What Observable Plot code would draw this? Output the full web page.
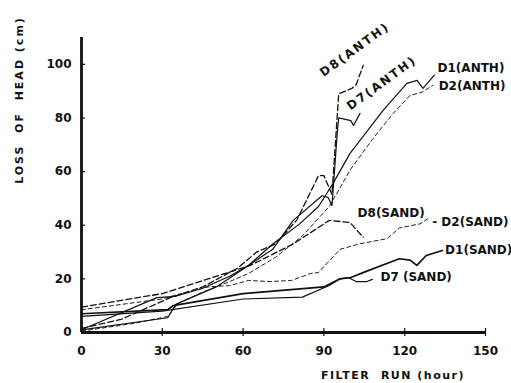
<!DOCTYPE html>
<html>
<head>
<meta charset="utf-8">
<script src="https://cdn.jsdelivr.net/npm/d3@7"></script>
<script src="https://cdn.jsdelivr.net/npm/@observablehq/plot@0.6"></script>
<style>
  html, body { margin: 0; padding: 0; background: #fff; }
  svg { display: block; }
</style>
</head>
<body>
<div id="chart"></div>
<script>
// Axis ticks
const hourTicks = [0, 30, 60, 90, 120, 150];
const headTicks = [0, 20, 40, 60, 80, 100];

// Series: [filter run (hour), loss of head (cm)]
const d1Anth = [[0,1],[28,13],[35,13.5],[45,16.5],[55,21],[62,25],[71,33],[81,40.5],[88,47],[93.4,55.6],[99.7,66.8],[112,82.8],[120.8,92.9],[124.6,94],[126.8,91],[131,96]];
const d2Anth = [[0,0.5],[20,3.5],[32,6],[36,11],[45,15],[55,19],[62,22],[72,28],[82,36],[92,47],[100,61],[108,72],[115.7,81.7],[122,88.4],[126.4,89.6],[130.5,92.2]];
const d7Anth = [[0,1],[32,5.5],[35,10.5],[50,17],[62,25],[71,31],[78.6,41.8],[89.3,51],[91.5,50.4],[93,47.4],[95,75],[95.5,80],[98,79.5],[100,79],[101,77.2],[103.4,81.7]];
const d8Anth = [[0,1.5],[15,5],[33,13],[45,17],[58,24],[65,30],[72,33],[80,42],[88,58.5],[90,58.5],[93,51.5],[95.5,89],[100.4,91],[102,92.5],[104.6,99.6]];
const d1Sand = [[0,7],[32,8.5],[34,10],[60,14.5],[90,17],[96,20],[100,20.5],[105,22.5],[118,27.5],[122,27],[124.5,25],[128,28.7],[134,30.6]];
const d7Sand = [[0,6],[30,8],[60,12.5],[82,13.2],[92,17.5],[96,20],[99,20.5],[102,19],[106,19],[108,19.8]];
const d2Sand = [[0,8.5],[30,12.5],[35,14],[47,17],[55,17.5],[62,19.4],[70,19],[78,19.4],[85,22],[88,22.4],[96,31],[103,33],[113.5,35],[118,39],[125.7,40.5],[128.7,42.5]];
const d8Sand = [[0,9.5],[30,14.5],[47,20],[62.7,25],[78.6,33],[92,41.8],[99.7,41],[104.6,35.5]];

// Series labels (hour, cm)
const endLabelText = ["D1(ANTH)", "D2(ANTH)", "D8(SAND)", "- D2(SAND)", "D1(SAND)", "D7 (SAND)"];
const endLabelHour = [132.2, 132.6, 102.5, 130.2, 135, 111];
const endLabelHead = [98.4, 91.7, 44.4, 41, 30.6, 20.5];
const tiltLabelText = ["D8(ANTH)", "D7(ANTH)"];
const tiltLabelHour = [101.5, 111.5];
const tiltLabelHead = [105.5, 93];

const endLabels = endLabelText.map((t, i) => ({t, x: endLabelHour[i], y: endLabelHead[i]}));
const tiltLabels = tiltLabelText.map((t, i) => ({t, x: tiltLabelHour[i], y: tiltLabelHead[i]}));

const solid = {stroke: "#111", strokeWidth: 1.2, x: d => d[0], y: d => d[1]};
const dashed = {stroke: "#111", strokeWidth: 1.3, strokeDasharray: "6,3", x: d => d[0], y: d => d[1]};
const dashedThin = {stroke: "#222", strokeWidth: 1, strokeDasharray: "4,3", x: d => d[0], y: d => d[1]};

const font = "DejaVu Sans, Arial, sans-serif";

const chart = Plot.plot({
  width: 511,
  height: 383,
  marginLeft: 81,
  marginRight: 26,
  marginTop: 37,
  marginBottom: 51,
  style: {fontFamily: font, background: "#fff", color: "#111"},
  x: {domain: [0, 150]},
  y: {domain: [0, 110]},
  marks: [
    Plot.line(d1Anth, solid),
    Plot.line(d2Anth, dashedThin),
    Plot.line(d7Anth, solid),
    Plot.line(d8Anth, dashed),
    Plot.line(d1Sand, {...solid, strokeWidth: 1.7}),
    Plot.line(d7Sand, solid),
    Plot.line(d2Sand, dashedThin),
    Plot.line(d8Sand, dashed),
    // axes
    Plot.ruleX([0], {stroke: "#111", strokeWidth: 2.8}),
    Plot.ruleY([0], {stroke: "#111", strokeWidth: 2.8}),
    Plot.ruleY(headTicks.slice(1), {x1: 0, x2: 1.5, stroke: "#111", strokeWidth: 1.2}),
    Plot.ruleX(hourTicks.slice(1), {y1: -1.5, y2: 1.5, stroke: "#111", strokeWidth: 1.2}),
    Plot.axisX({ticks: hourTicks, tickSize: 0, tickPadding: 14, fontSize: 12, fontWeight: "bold", label: null}),
    Plot.axisY({ticks: headTicks, tickSize: 0, tickPadding: 10, fontSize: 12, fontWeight: "bold", label: null}),
    Plot.text(endLabels, {x: "x", y: "y", text: "t", textAnchor: "start", fontSize: 12, fontWeight: "bold", fill: "#111"}),
    Plot.text(tiltLabels, {x: "x", y: "y", text: "t", rotate: -36, textAnchor: "middle", fontSize: 12, fontWeight: "bold", fill: "#111"})
  ]
});

const svg = d3.select(chart);
svg.selectAll("text")
  .filter(function() { return this.textContent === "D8(ANTH)" || this.textContent === "D7(ANTH)"; })
  .attr("letter-spacing", "2px");
svg.append("text")
  .attr("x", 393).attr("y", 379)
  .attr("text-anchor", "middle")
  .attr("font-family", font).attr("font-size", 11).attr("font-weight", "bold")
  .attr("letter-spacing", "1.5px").attr("fill", "#111")
  .text("FILTER  RUN (hour)");
svg.append("text")
  .attr("transform", "translate(23,100) rotate(-90)")
  .attr("text-anchor", "middle")
  .attr("font-family", font).attr("font-size", 11).attr("font-weight", "bold")
  .attr("letter-spacing", "2px").attr("fill", "#111")
  .text("LOSS  OF  HEAD (cm)");

document.getElementById("chart").appendChild(chart);
</script>
</body>
</html>
